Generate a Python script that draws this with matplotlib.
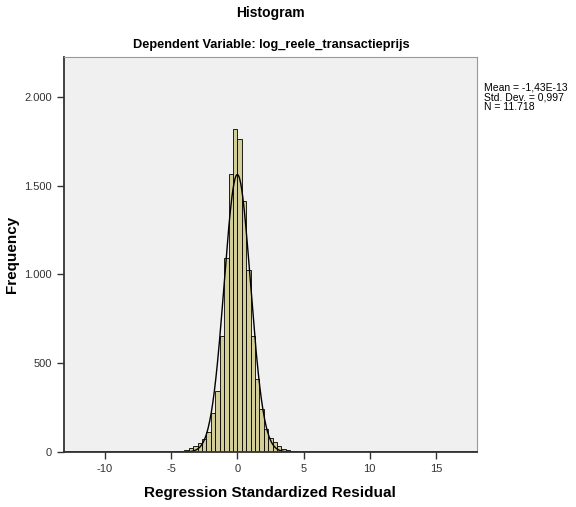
import numpy as np
import matplotlib
matplotlib.use("Agg")
import matplotlib.pyplot as plt
from matplotlib.ticker import FuncFormatter

plt.rcParams['font.family'] = ['Liberation Sans', 'DejaVu Sans']
plt.rcParams['axes.unicode_minus'] = False

# histogram bins (width 1/3)
bin_edges = np.arange(-15, 16) / 3.0
counts = [2, 4, 8, 12, 21, 32, 49, 73, 114, 219, 345, 653, 1092, 1566, 1818,
          1764, 1416, 1028, 653, 410, 240, 129, 77, 54, 32, 17, 11, 6, 3, 2]

mean_val = -1.43e-13
std_val = 0.997
n_val = 11718
bin_width = 1 / 3.0

fig = plt.figure(figsize=(5.76, 5.07), dpi=100)
ax = fig.add_axes([0.111, 0.1085, 0.717, 0.779])
ax.set_facecolor('#f0f0f0')

ax.bar(bin_edges[:-1], counts, width=bin_width, align='edge',
       color='#d3ce97', edgecolor='black', linewidth=0.6)

# fitted normal curve
xs = np.linspace(-13.1, 18.1, 800)
ys = n_val * bin_width / (std_val * np.sqrt(2 * np.pi)) * np.exp(-0.5 * ((xs - mean_val) / std_val) ** 2)
ax.plot(xs, ys, color='black', linewidth=1.0)

ax.set_xlim(-13.1, 18.1)
ax.set_ylim(0, 2225)
ax.set_xticks([-10, -5, 0, 5, 10, 15])
ax.set_yticks([0, 500, 1000, 1500, 2000])
ax.yaxis.set_major_formatter(FuncFormatter(lambda v, p: '{:,.0f}'.format(v).replace(',', '.')))
ax.tick_params(axis='both', labelsize=8, colors='#333333', length=5, width=1, direction='out')

for s in ['left', 'bottom']:
    ax.spines[s].set_color('#333333')
    ax.spines[s].set_linewidth(1.3)
for s in ['top', 'right']:
    ax.spines[s].set_color('#999999')
    ax.spines[s].set_linewidth(0.8)

ax.set_xlabel('Regression Standardized Residual', fontsize=11, fontweight='bold', labelpad=9)
ax.set_ylabel('Frequency', fontsize=11, fontweight='bold')
ax.yaxis.set_label_coords(-0.108, 0.5)

fig.text(0.47, 0.975, 'Histogram', ha='center', va='center', fontsize=10, fontweight='bold')
fig.text(0.471, 0.912, 'Dependent Variable: log_reele_transactieprijs', ha='center', va='center',
         fontsize=9.2, fontweight='bold')

fig.text(0.84, 0.838, 'Mean = -1,43E-13\nStd. Dev. = 0,997\nN = 11.718', ha='left', va='top',
         fontsize=7.5, linespacing=1.02)

fig.savefig('out.png', dpi=100, facecolor='white')
